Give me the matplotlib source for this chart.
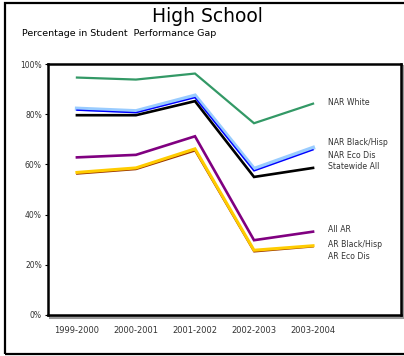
import matplotlib
matplotlib.use("Agg")
import matplotlib.pyplot as plt
from matplotlib.patches import Rectangle

plt.rcParams['font.family'] = ['DejaVu Sans']

years = ["1999-2000", "2000-2001", "2001-2002", "2002-2003", "2003-2004"]

nar_white = [94.6, 93.8, 96.2, 76.4, 84.2]
nar_black_hisp = [82.2, 81.2, 87.4, 58.2, 66.6]
nar_eco_dis = [81.6, 80.6, 86.6, 57.4, 65.8]
statewide_all = [79.6, 79.6, 85.2, 55.0, 58.6]
all_ar = [62.8, 63.8, 71.2, 29.8, 33.2]
ar_black_hisp = [56.8, 58.6, 66.2, 25.8, 27.6]
ar_eco_dis = [56.2, 58.0, 65.4, 25.2, 27.2]

series_labels = ["NAR White", "NAR Black/Hisp", "NAR Eco Dis", "Statewide All",
                 "All AR", "AR Black/Hisp", "AR Eco Dis"]
label_y = [84.8, 68.8, 63.6, 59.2, 34.0, 28.0, 23.2]

W, H = 404, 356
fig = plt.figure(figsize=(W / 100, H / 100), dpi=100)

# outer frame
fig.patches.append(Rectangle((5 / W, 2 / H), 1.2, 1 - 5 / H, transform=fig.transFigure,
                             fill=False, edgecolor='black', linewidth=1.6, clip_on=False))

ax_l, ax_r, ax_t, ax_b = 48, 401, 64, 315
ax = fig.add_axes([ax_l / W, 1 - ax_b / H, (ax_r - ax_l) / W, (ax_b - ax_t) / H])
ax.set_zorder(2)

# drop shadow behind the plot box
fig.patches.append(Rectangle(((ax_l + 2) / W, 1 - (ax_b + 2) / H), (ax_r - ax_l) / W,
                             (ax_b - ax_t) / H, transform=fig.transFigure,
                             fill=False, edgecolor='#999999', linewidth=2.2, zorder=1))

x = list(range(len(years)))
ax.plot(x, nar_white, color='#339966', lw=1.6, solid_joinstyle='miter')
ax.plot(x, nar_black_hisp, color='#99ccff', lw=3.0, solid_joinstyle='miter')
ax.plot(x, nar_eco_dis, color='#0000ff', lw=1.0, solid_joinstyle='miter')
ax.plot(x, statewide_all, color='black', lw=1.9, solid_joinstyle='miter')
ax.plot(x, all_ar, color='#800080', lw=1.9, solid_joinstyle='miter')
ax.plot(x, ar_eco_dis, color='#993300', lw=1.2, solid_joinstyle='miter')
ax.plot(x, ar_black_hisp, color='#ffcc00', lw=2.2, solid_joinstyle='miter')

for name, yv in zip(series_labels, label_y):
    ax.text(4.25, yv, name, fontsize=5.6, color='#333333',
            ha='left', va='center')

ax.set_xlim(-0.49, 5.49)
ax.set_ylim(0, 100)
ax.set_xticks(x)
ax.set_xticklabels(years, fontsize=6, color='#333333')
ax.set_yticks(range(0, 101, 20))
ax.set_yticklabels([f"{v}%" for v in range(0, 101, 20)], fontsize=5.5, color='#333333')
ax.tick_params(axis='x', length=0, pad=8)
ax.tick_params(axis='y', length=2.5, width=0.8, pad=2)
for s in ax.spines.values():
    s.set_linewidth(1.8)

fig.text(207 / W, 1 - 17 / H, "High School", fontsize=13.5, ha='center', va='center')
fig.text(22 / W, 1 - 34 / H, "Percentage in Student  Performance Gap", fontsize=6.8,
         ha='left', va='center')

fig.savefig("out.png", dpi=100)
